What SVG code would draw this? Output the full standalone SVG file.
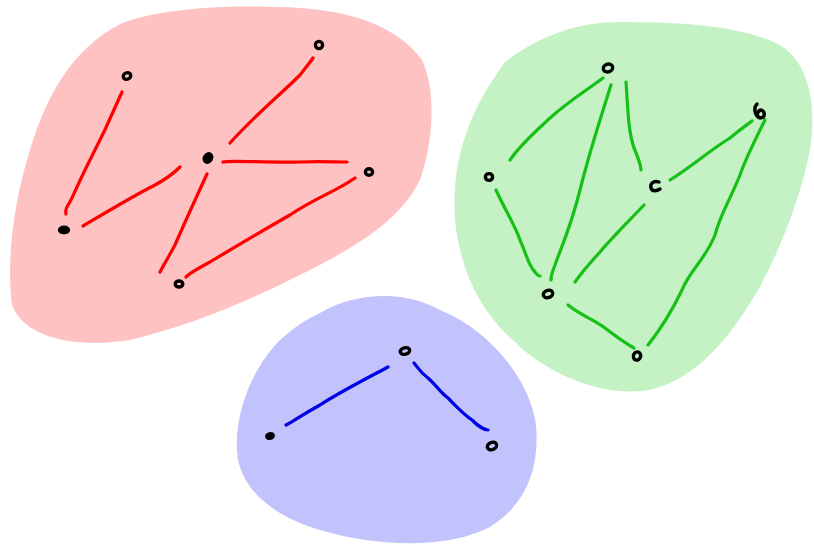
<svg xmlns="http://www.w3.org/2000/svg" width="814" height="548" viewBox="0 0 814 548">
<style>
.e{fill:none;stroke-width:3.2;stroke-linecap:round;stroke-linejoin:round}
.r{stroke:#ff0000}.g{stroke:#16c016}.b{stroke:#0000e6}
.n{fill:none;stroke:#000;stroke-width:3.4;stroke-linecap:round}
.nf{fill:#000;stroke:#000;stroke-width:2.4}
</style>
<rect width="814" height="548" fill="#fff"/>
<g id="blobs">
<path id="blob-red" fill="#ffc2c2" d="M120,24 C160,8 230,4 300,8 C360,12 400,30 422,60 C436,90 434,140 420,180 C400,220 360,245 300,275 C240,305 190,325 130,340 C80,348 25,340 12,305 C6,260 14,200 30,150 C45,100 70,50 120,24 Z"/>
<path id="blob-green" fill="#c4f2c4" d="M505,62 C540,35 580,22 620,22 C680,22 740,25 780,45 C812,65 816,110 810,150 C800,200 780,250 758,290 C735,330 700,378 650,390 C600,398 545,372 515,342 C480,312 460,270 455,220 C452,170 462,120 505,62 Z"/>
<path id="blob-blue" fill="#c2c2fc" d="M320,313 C345,298 375,294 400,297 C420,300 430,305 440,310 C490,330 530,380 536,425 C540,470 525,505 490,527 C450,548 380,548 320,530 C270,515 245,490 238,460 C232,420 250,370 280,340 C295,327 305,320 320,313 Z"/>
</g>
<g id="connectors">
<path class="e r" d="M122,92 C110,120 98,145 86,168 C74,192 72,200 68,205 C65,210 66,214 66,214"/>
<path class="e r" d="M83,226 C110,210 135,195 155,185 C168,178 175,172 180,167"/>
<path class="e r" d="M230,143 C255,115 280,95 300,75 C307,66 311,61 313,58"/>
<path class="e r" d="M223,162 C230,160 270,163 300,162 C320,161 335,162 347,162"/>
<path class="e r" d="M207,174 C195,200 185,222 175,245 C168,258 163,266 160,272"/>
<path class="e r" d="M355,178 C335,192 315,198 290,215 C260,232 230,250 210,262 C195,270 188,275 186,277"/>
<path class="e g" d="M603,78 C590,88 570,100 550,118 C535,132 520,145 510,160"/>
<path class="e g" d="M611,85 C600,120 590,150 580,190 C570,230 560,250 555,265 C551,275 551,280 551,280"/>
<path class="e g" d="M626,82 C628,110 628,130 634,148 C640,162 641,166 641,170"/>
<path class="e g" d="M670,180 C690,168 710,150 730,138 C742,128 748,124 752,121"/>
<path class="e g" d="M765,120 C755,140 745,160 740,175 C730,200 720,215 715,235 C705,260 690,270 682,290 C670,315 660,330 648,345"/>
<path class="e g" d="M496,190 C505,210 515,225 520,240 C528,258 528,265 535,272 C538,276 540,276 540,276"/>
<path class="e g" d="M644,205 C625,225 610,240 600,252 C588,265 580,275 575,282"/>
<path class="e g" d="M568,305 C580,315 595,320 605,328 C618,338 625,343 634,348"/>
<path class="e b" d="M388,367 C360,382 340,392 320,405 C300,416 292,422 286,425"/>
<path class="e b" d="M414,363 C418,368 420,372 428,378 C436,385 440,392 448,398 C456,406 462,413 472,420 C480,428 486,430 488,430"/>
</g>
<g id="node-r1"><ellipse class="n" cx="127" cy="76" rx="3.8" ry="3.2" transform="rotate(-20 127 76)"/></g>
<g id="node-r2"><ellipse class="n" cx="319" cy="45" rx="3.6" ry="3.6"/></g>
<g id="node-r3"><ellipse class="nf" cx="208" cy="158" rx="4" ry="5" transform="rotate(30 208 158)"/></g>
<g id="node-r4"><ellipse class="n" cx="369" cy="172" rx="3.6" ry="3.2"/></g>
<g id="node-r5"><ellipse class="nf" cx="64" cy="230" rx="5" ry="3.2"/></g>
<g id="node-r6"><ellipse class="n" cx="179" cy="284" rx="3.8" ry="3"/></g>
<g id="node-g1"><ellipse class="n" cx="608" cy="68" rx="4.8" ry="3.8" transform="rotate(-20 608 68)"/></g>
<g id="node-g2"><ellipse class="n" cx="489" cy="177" rx="3.6" ry="3.4"/></g>
<g id="node-g3"><path class="n" d="M659,182 C653,180 650,184 651,188 C652,192 657,191 660,189"/></g>
<g id="node-g4"><path class="n" d="M757,104 C753,108 755,116 760,118 C765,118 766,112 761,110 C757,111 757,115 758,117"/></g>
<g id="node-g5"><ellipse class="n" cx="548" cy="294" rx="4.8" ry="3.6" transform="rotate(-20 548 294)"/></g>
<g id="node-g6"><ellipse class="n" cx="637" cy="356" rx="3.6" ry="4.2" transform="rotate(20 637 356)"/></g>
<g id="node-b1"><ellipse class="n" cx="405" cy="351" rx="4.8" ry="3.2" transform="rotate(-15 405 351)"/></g>
<g id="node-b2"><ellipse class="nf" cx="270" cy="436" rx="3.8" ry="2.8" transform="rotate(-15 270 436)"/></g>
<g id="node-b3"><ellipse class="n" cx="492" cy="446" rx="4.8" ry="3.6" transform="rotate(-25 492 446)"/></g>
</svg>
